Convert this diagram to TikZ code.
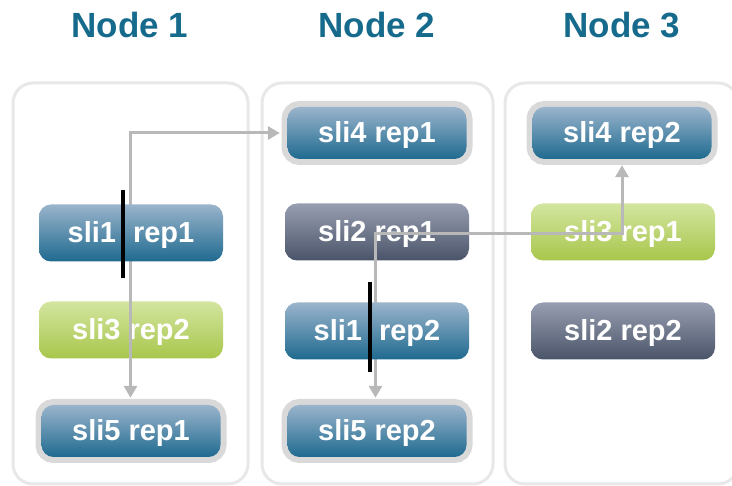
\documentclass[tikz,border=0pt]{standalone}
\usepackage{fontspec}
\setmainfont{Liberation Sans}
\usetikzlibrary{arrows.meta}

\definecolor{titleblue}{HTML}{166A8C}
\definecolor{framegray}{HTML}{E8E8E8}
\definecolor{halogray}{HTML}{D9D9D9}
\definecolor{linkgray}{HTML}{B8B8B8}
\definecolor{blueTop}{HTML}{9AB4CC}
\definecolor{blueBot}{HTML}{1F6A8F}
\definecolor{slateTop}{HTML}{989EB2}
\definecolor{slateBot}{HTML}{4A5468}
\definecolor{greenTop}{HTML}{D3E59F}
\definecolor{greenBot}{HTML}{A8C64C}

\pgfdeclarelayer{back}
\pgfdeclarelayer{links}
\pgfsetlayers{back,links,main}

\tikzset{
  title/.style={font=\fontsize{35}{38}\selectfont\bfseries, text=titleblue},
  column/.style={draw=framegray, line width=3pt, rounded corners=20pt,
    minimum width=#1, minimum height=401pt, inner sep=0pt},
  replica/.style={rounded corners=12pt, inner sep=0pt,
    minimum width=184pt, minimum height=57pt, text=white,
    text depth=3pt, font=\fontsize{29}{32}\selectfont\bfseries},
  bluerep/.style={replica, top color=blueTop, bottom color=blueBot},
  slaterep/.style={replica, top color=slateTop, bottom color=slateBot},
  greenrep/.style={replica, top color=greenTop, bottom color=greenBot},
  haloed/.style={minimum width=179pt, minimum height=52pt,
    preaction={draw=halogray, line width=12pt}},
  link/.style={draw=linkgray, line width=3pt,
    {Triangle[width=13pt,length=12pt]}-{Triangle[width=13pt,length=12pt]}},
  cut/.style={draw=black, line width=4pt},
}

\begin{document}
\begin{tikzpicture}[x=1pt, y=-1pt]
  \useasboundingbox (0,0) rectangle (732,486);

  % column titles
  \node[title] (t1) at (130,25) {Node 1};
  \node[title] (t2) at (377,25) {Node 2};
  \node[title] (t3) at (622,25) {Node 3};

  \begin{pgfonlayer}{back}
    % column frames
    \node[column=235pt] (col1) at (130.5,283.5) {};
    \node[column=231pt] (col2) at (377.5,283.5) {};
    \node[column=233pt] (col3) at (621.5,283.5) {};
    % replicas lying under the links
    \node[greenrep] (n13) at (131,330) {sli3 rep2};
    \node[slaterep] (n22) at (377,232) {sli2 rep1};
    \node[greenrep] (n33) at (623,232) {sli3 rep1};
    \node[slaterep] (n32) at (623,331) {sli2 rep2};
  \end{pgfonlayer}

  % replicas lying over the links
  \node[bluerep] (n11) at (131,233) {sli1\hspace{17pt}rep1};
  \node[bluerep, haloed] (n15) at (131,431) {sli5 rep1};
  \node[bluerep, haloed] (n24) at (377,133) {sli4 rep1};
  \node[bluerep] (n21) at (377,331) {sli1\hspace{17pt}rep2};
  \node[bluerep, haloed] (n25) at (377,431) {sli5 rep2};
  \node[bluerep, haloed] (n34) at (622,133) {sli4 rep2};

  % branching points of the links
  \coordinate (fork1) at (130.5,233);
  \coordinate (fork2) at (375.5,234);

  % replica links
  \begin{pgfonlayer}{links}
    \draw[link, shorten <=7pt, shorten >=7.5pt]
      ([xshift=-0.5pt]n15.north) -- (fork1) |- (n24.west);
    \draw[link, shorten <=7pt, shorten >=6pt]
      ([xshift=-1.5pt]n25.north) -- (fork2) -| (n34.south);
  \end{pgfonlayer}

  % cut marks
  \draw[cut] ([xshift=-8pt,yshift=14pt]n11.north) -- ([xshift=-8pt,yshift=-16pt]n11.south);
  \draw[cut] ([xshift=-7.5pt,yshift=20pt]n21.north) -- ([xshift=-7.5pt,yshift=-12pt]n21.south);
\end{tikzpicture}
\end{document}
